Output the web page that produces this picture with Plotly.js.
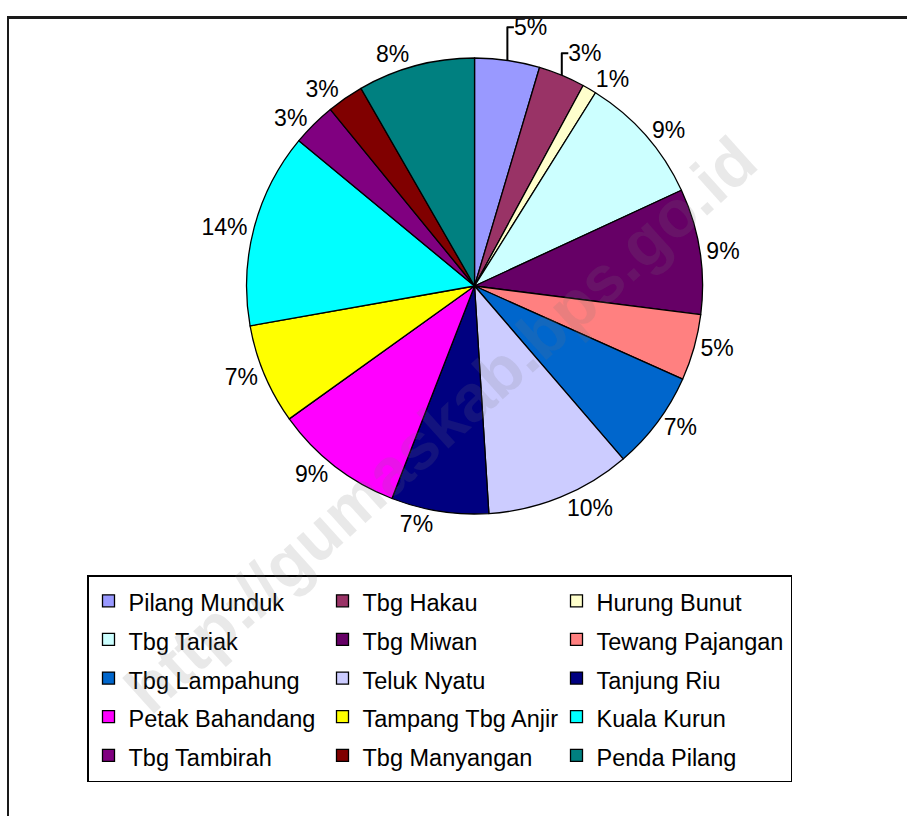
<!DOCTYPE html>
<html>
<head>
<meta charset="utf-8">
<script src="https://cdn.plot.ly/plotly-3.0.1.min.js"></script>
<style>
  html, body { margin: 0; padding: 0; background: #ffffff; }
  #wrap { position: relative; width: 907px; height: 816px; overflow: hidden; }
  #chart { position: absolute; left: 0; top: 0; width: 907px; height: 816px; }
  #frame { position: absolute; left: 7px; top: 16px; width: 920px; height: 820px;
           border-top: 3px solid #1a1a1a; border-left: 2px solid #1a1a1a; pointer-events: none; }
</style>
</head>
<body>
<div id="wrap">
  <div id="chart"></div>
  <div id="frame"></div>
</div>
<script>
// Desa (villages) and their share (%)
const categories = [
  "Pilang Munduk", "Tbg Hakau", "Hurung Bunut",
  "Tbg Tariak", "Tbg Miwan", "Tewang Pajangan",
  "Tbg Lampahung", "Teluk Nyatu", "Tanjung Riu",
  "Petak Bahandang", "Tampang Tbg Anjir", "Kuala Kurun",
  "Tbg Tambirah", "Tbg Manyangan", "Penda Pilang"
];
const values = [4.6, 3.3, 1.0, 9.2, 8.9, 4.7, 7.0, 10.3, 6.9, 9.2, 7.1, 13.8, 3.1, 2.6, 8.3];
const colors = [
  "#9999FF", "#993366", "#FFFFCC",
  "#CCFFFF", "#660066", "#FF8080",
  "#0066CC", "#CCCCFF", "#000080",
  "#FF00FF", "#FFFF00", "#00FFFF",
  "#800080", "#800000", "#008080"
];

const FONT = "'Liberation Sans', Arial, Helvetica, sans-serif";

const trace = {
  type: "pie",
  labels: categories.map(c => '<span style="font-size:23.5px">' + c + '</span>'),
  values: values,
  sort: false,
  direction: "clockwise",
  rotation: 0,
  marker: { colors: colors, line: { color: "#000000", width: 1.3 } },
  textinfo: "percent",
  texttemplate: "%{percent:.0%}",
  textposition: "outside",
  outsidetextfont: { family: FONT, size: 23, color: "#000000" },
  hoverinfo: "label+percent",
  domain: { x: [0.2718, 0.7746], y: [0.3701, 0.9289] },
  automargin: false
};

const layout = {
  width: 907,
  height: 816,
  margin: { l: 0, r: 0, t: 0, b: 0 },
  paper_bgcolor: "rgba(0,0,0,0)",
  plot_bgcolor: "rgba(0,0,0,0)",
  font: { family: FONT, color: "#000000" },
  showlegend: true,
  legend: {
    orientation: "h",
    x: 87 / 907,
    xanchor: "left",
    y: (816 - 575) / 816,
    yanchor: "top",
    entrywidth: 189,
    entrywidthmode: "pixels",
    font: { family: FONT, size: 27.4, color: "#000000" },
    bgcolor: "#ffffff",
    bordercolor: "#000000",
    borderwidth: 1.5,
    traceorder: "normal"
  },
  annotations: [{
    text: "http://gumaskab.bps.go.id",
    xref: "paper", yref: "paper",
    x: 440 / 907, y: (816 - 425) / 816,
    xanchor: "center", yanchor: "middle",
    textangle: -42,
    showarrow: false,
    font: { family: "'Liberation Sans', Arial, sans-serif", size: 66, color: "rgba(120,120,120,0.16)", weight: "bold" }
  }]
};

Plotly.newPlot("chart", [trace], layout, { displayModeBar: false, staticPlot: true });
</script>
</body>
</html>
